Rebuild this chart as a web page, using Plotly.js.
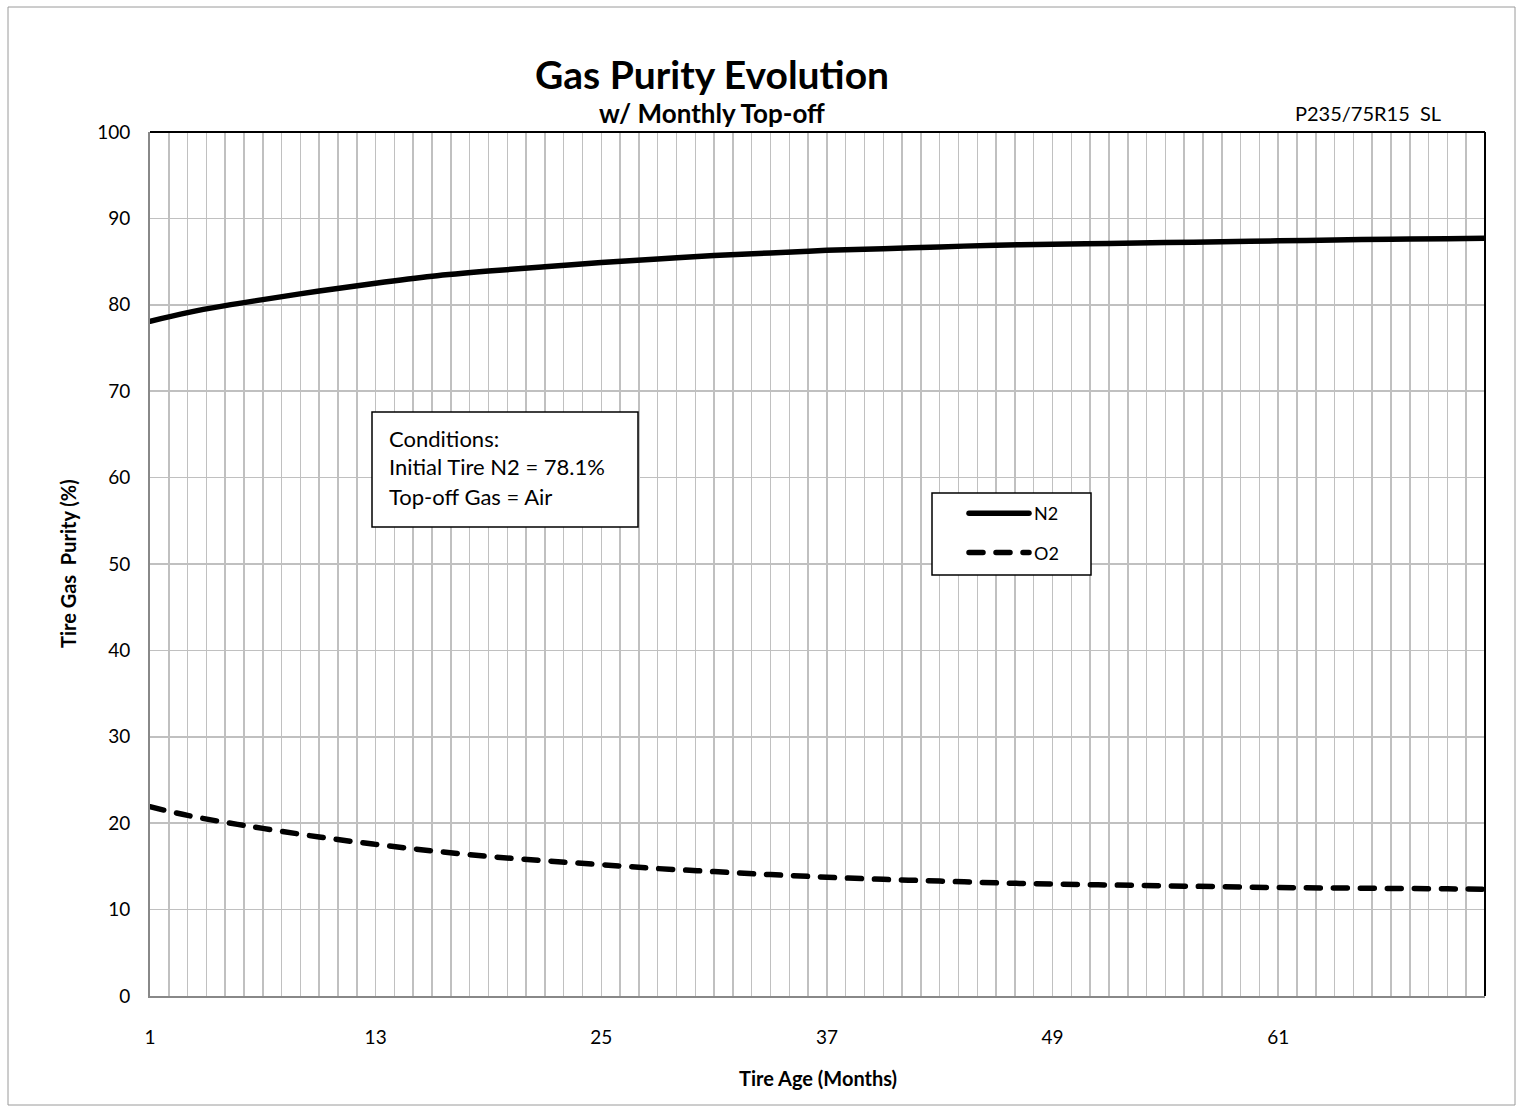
<!DOCTYPE html>
<html>
<head>
<meta charset="utf-8">
<script src="https://cdn.plot.ly/plotly-3.0.1.min.js"></script>
<style>
html,body{margin:0;padding:0;background:#fff;}
#chart{width:1522px;height:1112px;}
.js-line{stroke-linecap:round;}
</style>
</head>
<body>
<div id="chart"></div>
<script>
// Tire age (months) at which values were read
const months = [1, 3, 5, 7, 10, 13, 16, 19, 22, 25, 28, 31, 34, 37, 40, 43, 46, 49, 52, 55, 58, 61, 64, 67, 70, 72];
// N2 purity (%)
const n2 = [78.1, 79.1, 79.9, 80.6, 81.6, 82.5, 83.3, 83.9, 84.4, 84.9, 85.3, 85.7, 86.0, 86.3, 86.5, 86.7, 86.9, 87.0, 87.1, 87.2, 87.3, 87.4, 87.5, 87.6, 87.65, 87.7];
// O2 purity (%)
const o2 = [21.9, 20.9, 20.1, 19.4, 18.4, 17.55, 16.8, 16.15, 15.65, 15.2, 14.75, 14.4, 14.05, 13.75, 13.5, 13.3, 13.1, 12.95, 12.85, 12.75, 12.65, 12.55, 12.5, 12.45, 12.4, 12.35];
// Axis ticks
const xTicks = [1, 13, 25, 37, 49, 61];
const yTicks = [0, 10, 20, 30, 40, 50, 60, 70, 80, 90, 100];

const FONT = 'Lato, "Open Sans", sans-serif';
const GRID = '#c0c0c0';

const traces = [
  {x: months, y: n2, name: 'N2', legendgroup: 'a', mode: 'lines', line: {color: '#000', width: 5.5, shape: 'spline'}},
  {x: months, y: o2, name: 'O2', legendgroup: 'b', mode: 'lines', line: {color: '#000', width: 5.5, dash: '14px,13px', shape: 'spline'}}
];

const px = v => (v - 150) / 1335;
const py = v => 1 - (v - 132) / 864;

const layout = {
  width: 1522, height: 1112,
  margin: {l: 150, r: 37, t: 132, b: 116},
  paper_bgcolor: '#fff', plot_bgcolor: '#fff',
  font: {family: FONT, color: '#000', size: 18},
  showlegend: true,
  legend: {
    x: px(964), y: py(495), xanchor: 'left', yanchor: 'top',
    borderwidth: 0, bgcolor: 'rgba(0,0,0,0)',
    font: {family: FONT, size: 18}, itemwidth: 60, tracegroupgap: 13
  },
  xaxis: {
    range: [1, 72], tickvals: xTicks, ticktext: xTicks.map(String),
    showgrid: true, gridcolor: GRID, gridwidth: 1.5,
    minor: {dtick: 1, tick0: 1, showgrid: true, gridcolor: GRID, gridwidth: 1.5},
    showline: true, linecolor: '#888', linewidth: 2,
    zeroline: false, ticks: '', ticklabelstandoff: 23,
    tickfont: {family: FONT, size: 19}, fixedrange: true
  },
  yaxis: {
    range: [0, 100], tickvals: yTicks, ticktext: yTicks.map(String),
    showgrid: true, gridcolor: GRID, gridwidth: 1.5,
    showline: true, linecolor: '#888', linewidth: 2,
    zeroline: false, ticks: '', ticklabelstandoff: 14,
    tickfont: {family: FONT, size: 19}, fixedrange: true
  },
  shapes: [
    // plot area top and right border
    {type: 'line', xref: 'paper', yref: 'paper', x0: 0, x1: 1, y0: 1, y1: 1, line: {color: '#000', width: 2}},
    {type: 'line', xref: 'paper', yref: 'paper', x0: 1, x1: 1, y0: 0, y1: 1, line: {color: '#000', width: 2}},
    // conditions box
    {type: 'rect', xref: 'paper', yref: 'paper', x0: px(372), x1: px(638), y0: py(527), y1: py(412),
     line: {color: '#000', width: 1.5}, fillcolor: '#fff', layer: 'above'},
    // legend box
    {type: 'rect', xref: 'paper', yref: 'paper', x0: px(932), x1: px(1091), y0: py(575), y1: py(493),
     line: {color: '#000', width: 1.5}, fillcolor: '#fff', layer: 'above'},
    // chart outer border
    {type: 'rect', xref: 'paper', yref: 'paper', x0: px(8), x1: px(1515), y0: py(1105), y1: py(7),
     line: {color: '#9a9a9a', width: 1}}
  ],
  annotations: [
    {text: '<b>Gas Purity Evolution</b>', xref: 'paper', yref: 'paper', x: px(712), y: py(74),
     xanchor: 'center', yanchor: 'middle', showarrow: false, font: {family: FONT, size: 39}},
    {text: '<b>w/ Monthly Top-off</b>', xref: 'paper', yref: 'paper', x: px(712), y: py(113),
     xanchor: 'center', yanchor: 'middle', showarrow: false, font: {family: FONT, size: 26}},
    {text: 'P235/75R15  SL', xref: 'paper', yref: 'paper', x: px(1443), y: py(113),
     xanchor: 'right', yanchor: 'middle', showarrow: false, font: {family: FONT, size: 20}},
    {text: '<b>Tire Age (Months)</b>', xref: 'paper', yref: 'paper', x: 0.5, y: py(1078),
     xanchor: 'center', yanchor: 'middle', showarrow: false, font: {family: FONT, size: 20}},
    {text: '<b>Tire Gas  Purity (%)</b>', xref: 'paper', yref: 'paper', x: px(68), y: 0.5,
     xanchor: 'center', yanchor: 'middle', textangle: -90, showarrow: false, font: {family: FONT, size: 20}},
    {text: 'Conditions:', xref: 'paper', yref: 'paper', x: px(387), y: py(438),
     xanchor: 'left', yanchor: 'middle', showarrow: false, font: {family: FONT, size: 22}},
    {text: 'Initial Tire N2 = 78.1%', xref: 'paper', yref: 'paper', x: px(387), y: py(467),
     xanchor: 'left', yanchor: 'middle', showarrow: false, font: {family: FONT, size: 22}},
    {text: 'Top-off Gas = Air', xref: 'paper', yref: 'paper', x: px(387), y: py(496),
     xanchor: 'left', yanchor: 'middle', showarrow: false, font: {family: FONT, size: 22}}
  ]
};

Plotly.newPlot('chart', traces, layout, {displayModeBar: false, staticPlot: true});
</script>
</body>
</html>
